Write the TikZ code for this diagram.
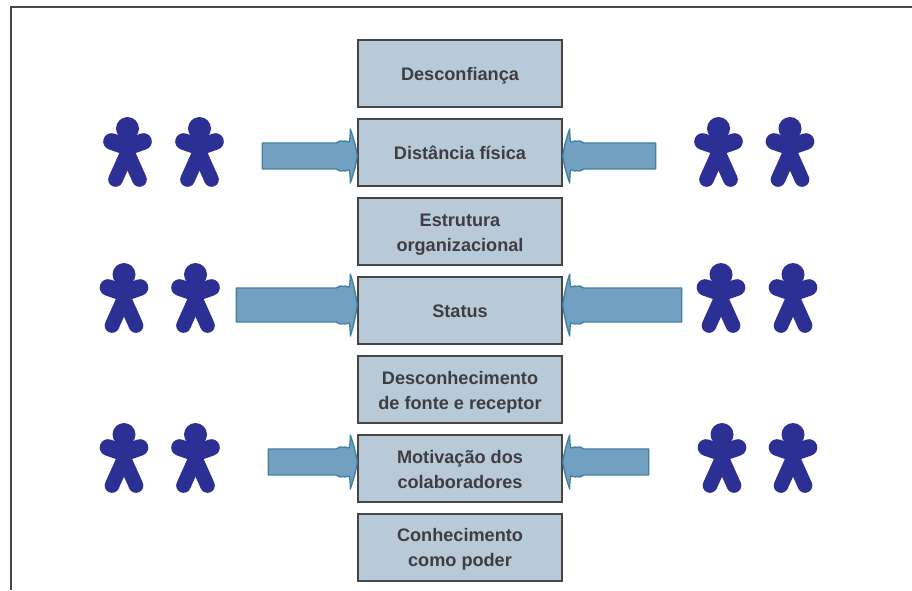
\documentclass[tikz,border=0pt]{standalone}
\usepackage{fontspec}
\setmainfont{Liberation Sans}
\definecolor{boxfill}{RGB}{184,202,215}
\definecolor{boxline}{RGB}{70,70,72}
\definecolor{boxtext}{RGB}{62,62,66}
\definecolor{arrowfill}{RGB}{113,160,192}
\definecolor{arrowline}{RGB}{66,128,160}
\definecolor{personblue}{RGB}{44,48,148}
\tikzset{every picture/.style={line width=0.75pt}}
\tikzset{
  barrier/.style={draw=boxline,line width=1.1pt,fill=boxfill,minimum width=153pt,minimum height=50pt,inner sep=0pt,align=center,text=boxtext,font=\fontsize{13.6}{18.75}\selectfont\bfseries,execute at begin node={\rule{0pt}{#1}}},
  barrier/.default=10.5pt,
  flare/.style={draw=arrowline,fill=arrowfill,line width=1pt,line join=round},
  limb/.style={draw=personblue,line cap=round,line join=round},
  person/.pic={
    \fill [personblue] (0,11.5) circle (11.5);
    \draw [limb,line width=12.5pt] (-16,24.5) -- (0,30) -- (16,24.5);
    \draw [limb,line width=11pt] (-12,62.5) -- (-1,38) ;
    \draw [limb,line width=11pt] (12,62.5) -- (1,38) ;
  }
}
% one text line, set a little lower in its box
\newcommand{\dropline}[2]{\raisebox{-#1}[\height][\depth]{#2}}
% block arrow, tip on a box side: tip, length, half height, direction
\newcommand{\flarearrow}[4]{
  \begin{scope}[shift={#1},xscale=#4]
    \draw [flare] (-#2,-#3) -- (-21,-#3) .. controls (-19,-#3-2) and (-18,-#3-1) .. (-17,-#3-2) .. controls (-15,-#3-3) and (-14,-#3) .. (-12,-#3-2) .. controls (-11,-#3-3) and (-10,-#3) .. (-8,-#3-1) .. controls (-7,-#3-5) and (-7,-#3-10) .. (-7,-#3-14) .. controls (-4,-#3-6) and (-1,-8) .. (0,0) .. controls (-1,8) and (-4,#3+6) .. (-7,#3+14) .. controls (-7,#3+10) and (-7,#3+5) .. (-8,#3+1) .. controls (-10,#3) and (-11,#3+3) .. (-12,#3+2) .. controls (-14,#3) and (-15,#3+3) .. (-17,#3+2) .. controls (-18,#3+1) and (-19,#3+2) .. (-21,#3) -- (-#2,#3) -- cycle ;
  \end{scope}
}

\begin{document}
\begin{tikzpicture}[x=0.75pt,y=0.75pt,yscale=-1,xscale=1]
\useasboundingbox (0,0) rectangle (912,590);

% Frame
\draw [draw=boxline,line width=1pt] (11,590) -- (11,7) -- (912,7) ;

% Barriers
\node [barrier=13pt] (desconfianca) at (460,73.5) {Desconfiança};
\node [barrier] (distancia) at (460,152.5) {Distância física};
\node [barrier] (estrutura) at (460,231.5) {\dropline{2.2pt}{Estrutura}\\\dropline{2.2pt}{organizacional}};
\node [barrier] (status) at (460,310.5) {Status};
\node [barrier] (desconhecimento) at (460,389.5) {\dropline{2.2pt}{Desconhecimento}\\\dropline{2.2pt}{de fonte e receptor}};
\node [barrier] (motivacao) at (460,468.5) {\dropline{0.5pt}{Motivação dos}\\\dropline{0.5pt}{colaboradores}};
\node [barrier] (conhecimento) at (460,547.5) {\dropline{1.5pt}{Conhecimento}\\\dropline{1.5pt}{como poder}};

% Arrows
\flarearrow{([yshift=2.6pt]distancia.west)}{95}{13}{1}
\flarearrow{([yshift=2.6pt]distancia.east)}{93}{13}{-1}
\flarearrow{([yshift=-4.1pt]status.west)}{121}{17}{1}
\flarearrow{([yshift=-4.1pt]status.east)}{119}{17}{-1}
\flarearrow{([yshift=-4.9pt]motivacao.west)}{89}{13}{1}
\flarearrow{([yshift=-4.9pt]motivacao.east)}{86}{13}{-1}

% People
\foreach \px/\py in {127.5/117,199.5/117,718.5/117,790/117,124/263,195.5/263,721/263,793/263,124/423,195.5/423,722/423,793/423}
  \pic [yscale=-1] at (\px,\py) {person};

\end{tikzpicture}
\end{document}
